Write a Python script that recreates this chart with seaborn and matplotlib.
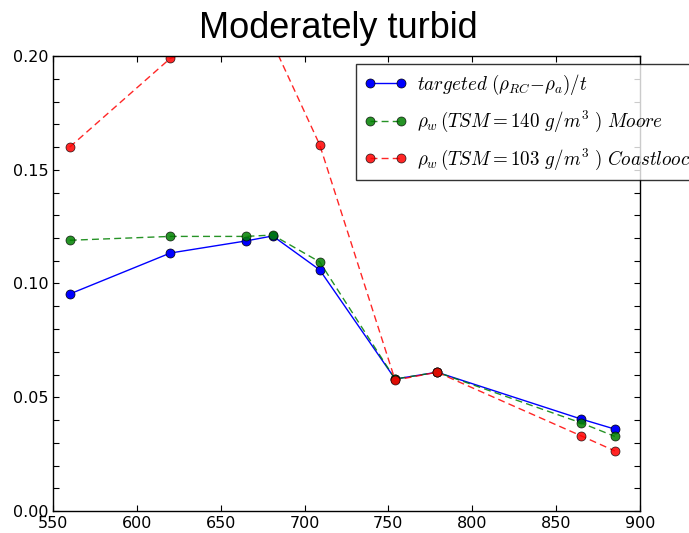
import matplotlib
matplotlib.use("Agg")
import matplotlib.pyplot as plt
import seaborn as sns
import pandas as pd
from matplotlib.ticker import MultipleLocator

wavelength = [560, 620, 665, 681, 709, 754, 779, 865, 885]
targeted = [0.0954, 0.1134, 0.1187, 0.1209, 0.1060, 0.0580, 0.0610, 0.0404, 0.0360]
moore = [0.1190, 0.1207, 0.1207, 0.1213, 0.1095, 0.0580, 0.0610, 0.0387, 0.0328]
coastlooc = [0.1600, 0.1990, 0.2100, 0.2057, 0.1610, 0.0575, 0.0610, 0.0330, 0.0264]

labels = [r'$targeted\ (\rho_{RC}{-}\rho_a)/t$',
          r'$\rho_w\,(TSM=140\ g/m^3\ )\ Moore$',
          r'$\rho_w\,(TSM=103\ g/m^3\ )\ Coastlooc$']

sns.set_style("white")
plt.rcParams['mathtext.fontset'] = 'cm'
plt.rcParams['font.family'] = ['DejaVu Sans']
plt.rcParams['text.color'] = 'black'
plt.rcParams['xtick.color'] = 'black'
plt.rcParams['ytick.color'] = 'black'

fig = plt.figure(figsize=(6.89, 5.33), dpi=100)
ax = fig.add_axes([53/689, 1-511/533, (640-53)/689, (511-56)/533])

series = [(targeted, '#0000ff', '-'), (moore, '#008000', '--'), (coastlooc, '#ff0000', '--')]
for (vals, col, ls), lab in zip(series, labels):
    df = pd.DataFrame({'x': wavelength, 'y': vals})
    sns.lineplot(data=df, x='x', y='y', ax=ax, color=col, linestyle=ls, lw=1.0,
                 marker='o', markersize=6.5, markeredgecolor='black', markeredgewidth=0.5,
                 label=lab, alpha=0.85 if ls == '--' else 1.0)
for ln in ax.get_lines()[1:]:
    ln.set_dashes((5, 3))

ax.set_xlim(550, 900)
ax.set_ylim(0, 0.2)
ax.xaxis.set_major_locator(MultipleLocator(50))
ax.yaxis.set_major_locator(MultipleLocator(0.05))
ax.yaxis.set_minor_locator(MultipleLocator(0.01))
ax.yaxis.set_major_formatter(matplotlib.ticker.FormatStrFormatter('%.2f'))
ax.set_xlabel('')
ax.set_ylabel('')
ax.tick_params(which='both', direction='in', top=True, right=True, bottom=True, left=True,
               length=4, width=0.8, labelsize=11.5, color='black', labelcolor='black', pad=3.5)
for s in ax.spines.values():
    s.set_color('black')
    s.set_linewidth(1.0)

fig.text(338/689, 1-38/533, 'Moderately turbid', fontsize=26, fontfamily='Liberation Sans',
         ha='center', va='baseline', color='black')

leg = ax.legend(loc='upper left', bbox_to_anchor=(356/689, 1-64/533), bbox_transform=fig.transFigure,
                fontsize=13.7, frameon=True, fancybox=False, borderaxespad=0, handlelength=2.2,
                numpoints=2, labelspacing=0.65, borderpad=0.45, handletextpad=0.55)
leg.get_frame().set_edgecolor('black')
leg.get_frame().set_linewidth(1.0)
for t in leg.get_texts():
    t.set_color('black')

fig.savefig('out.png', dpi=100)
